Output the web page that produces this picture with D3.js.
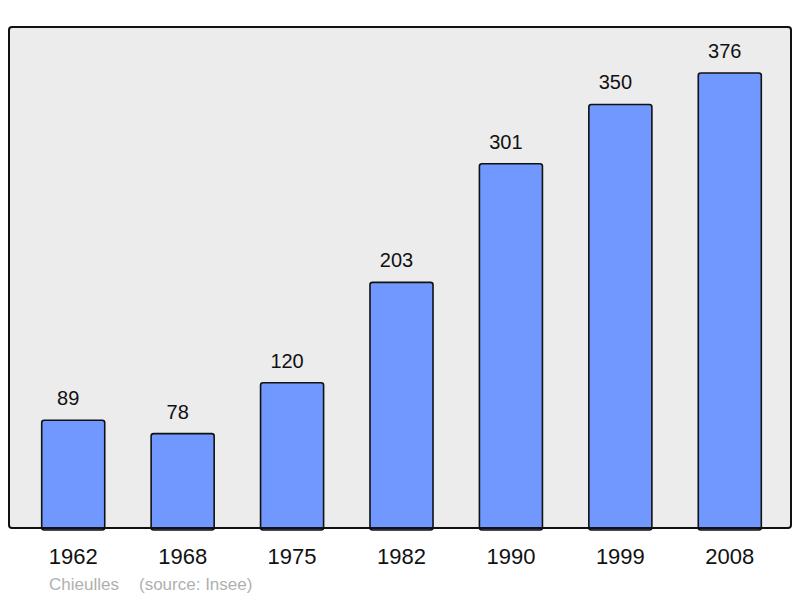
<!DOCTYPE html>
<html><head><meta charset="utf-8">
<script src="https://cdn.jsdelivr.net/npm/d3@7"></script>
<style>body{margin:0;background:#fff}svg{display:block}</style>
</head><body>
<svg id="c" width="800" height="598"></svg>
<script>
const years = ["1962","1968","1975","1982","1990","1999","2008"];
const population = [89,78,120,203,301,350,376];
const placeName = "Chieulles";
const sourceText = "(source: Insee)";

const svg = d3.select("#c");
const font = "'Liberation Sans', Arial, sans-serif";
const frame = {x0: 9, y0: 27, x1: 791, y1: 528};

svg.append("rect").attr("x", frame.x0).attr("y", frame.y0)
  .attr("width", frame.x1 - frame.x0).attr("height", frame.y1 - frame.y0)
  .attr("rx", 3).attr("fill", "#ececec");

const x = d3.scaleBand().domain(years).range([18.5, 784.5]).paddingInner(0.424).paddingOuter(0.212);
const y = d3.scaleLinear().domain([0, 414]).range([frame.y1, frame.y0]);

svg.selectAll("rect.bar").data(population).join("rect").attr("class","bar")
  .attr("x", (d,i) => x(years[i]))
  .attr("y", d => y(d))
  .attr("width", x.bandwidth())
  .attr("height", d => y(0) - y(d) + 2)
  .attr("rx", 2.5)
  .attr("fill", "#7098ff").attr("stroke", "#111").attr("stroke-width", 1.6);

svg.selectAll("text.val").data(population).join("text").attr("class","val")
  .attr("x", (d,i) => x(years[i]) + x.bandwidth()/2 - 5)
  .attr("y", d => y(d) - 15)
  .attr("text-anchor", "middle").attr("font-family", font).attr("font-size", 20)
  .attr("fill", "#111").text(d => d);

// frame border on top
svg.append("rect").attr("x", frame.x0).attr("y", frame.y0)
  .attr("width", frame.x1 - frame.x0).attr("height", frame.y1 - frame.y0)
  .attr("rx", 3).attr("fill", "none").attr("stroke", "#111").attr("stroke-width", 2);

const xAxis = d3.axisBottom(x).tickSize(0).tickPadding(0);
const ax = svg.append("g").attr("transform", `translate(0,${frame.y1})`).call(xAxis);
ax.select(".domain").remove();
ax.selectAll("text").attr("y", 36).attr("dy", null)
  .attr("font-family", font).attr("font-size", 22).attr("fill", "#111");

svg.append("text").attr("x", 49).attr("y", 589.5).attr("font-family", font)
  .attr("font-size", 17).attr("fill", "#b0b0b0").text(placeName);
svg.append("text").attr("x", 139).attr("y", 589.5).attr("font-family", font)
  .attr("font-size", 17).attr("fill", "#b0b0b0").text(sourceText);
</script>
</body></html>
